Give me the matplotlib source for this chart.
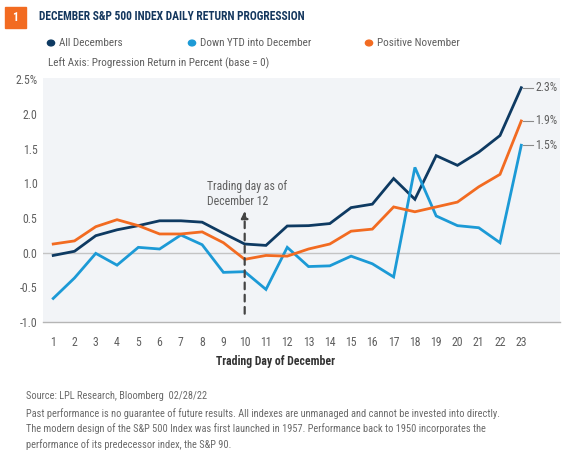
import numpy as np
import matplotlib
matplotlib.use("Agg")
import matplotlib.pyplot as plt
from matplotlib.patches import Rectangle

plt.rcParams['font.family'] = ['Roboto Condensed', 'Roboto', 'DejaVu Sans']

# Données
days = list(range(1, 24))
all_dec = [-0.04, 0.02, 0.245, 0.33, 0.39, 0.46, 0.46, 0.44, 0.28, 0.125, 0.105, 0.385,
           0.39, 0.42, 0.65, 0.70, 1.07, 0.77, 1.40, 1.26, 1.45, 1.69, 2.38]
down_ytd = [-0.66, -0.365, -0.01, -0.18, 0.077, 0.053, 0.255, 0.115, -0.284, -0.274, -0.53, 0.077,
            -0.20, -0.19, -0.05, -0.16, -0.35, 1.23, 0.53, 0.39, 0.36, 0.144, 1.55]
pos_nov = [0.125, 0.17, 0.375, 0.476, 0.39, 0.27, 0.27, 0.30, 0.144, -0.096, -0.04, -0.05,
           0.053, 0.125, 0.31, 0.34, 0.66, 0.59, 0.66, 0.73, 0.95, 1.13, 1.90]
end_labels = ['2.3%', '1.5%', '1.9%']
series_names = ['All Decembers', 'Down YTD into December', 'Positive November']
yticks = [-1.0, -0.5, 0.0, 0.5, 1.0, 1.5, 2.0, 2.5]
ytick_labels = ['-1.0', '-0.5', '0.0', '0.5', '1.0', '1.5', '2.0', '2.5%']

navy = '#0e3a62'
blue = '#1c9ad6'
orange = '#f26b21'
grey = '#5f5f5f'
colors = [navy, blue, orange]

W, H = 574, 459
fig = plt.figure(figsize=(W / 100, H / 100), dpi=100)
fig.patch.set_facecolor('white')

# zone du graphe (pixels)
left, right, top, bottom = 43, 560, 78, 322
ax = fig.add_axes([left / W, 1 - bottom / H, (right - left) / W, (bottom - top) / H])
ax.set_facecolor('#f2f4f7')

for vals, c in zip([all_dec, down_ytd, pos_nov], colors):
    ax.plot(days, vals, color=c, lw=2, solid_joinstyle='miter', zorder=3)

ax.axhline(0, color='#c4c4c4', lw=1, zorder=1)
ax.set_xlim(0.52, 24.82)
ax.set_ylim(-1.0, 2.52)
ax.set_xticks(days)
ax.set_xticklabels([str(d) for d in days], fontsize=8.5, color=grey)
ax.set_yticks(yticks)
ax.set_yticklabels(ytick_labels, fontsize=8.5, color=grey)
ax.tick_params(length=0, pad=10)
ax.tick_params(axis='y', pad=4)
for s in ['top', 'right', 'left']:
    ax.spines[s].set_visible(False)
ax.spines['bottom'].set_color('#b5b5b5')
ax.spines['bottom'].set_linewidth(1)

# étiquettes de fin de série
for vals, lab in zip([all_dec, down_ytd, pos_nov], end_labels):
    ax.plot([23.1, 23.55], [vals[-1], vals[-1]], color='#8a8a8a', lw=0.8)
    ax.text(23.65, vals[-1], lab, fontsize=8.5, color=grey, va='center', ha='left')

# flèche jour 10
ax.annotate('', xy=(10, 0.64), xytext=(10, -0.92),
            arrowprops=dict(arrowstyle='-|>', color='#444444', lw=1.6, ls=(0, (3, 2.5)),
                            mutation_scale=10))
ax.text(8.25, 0.85, 'Trading day as of\nDecember 12', fontsize=8.5, color=grey,
        va='center', ha='left', linespacing=1.15)

fig.text(275 / W, 1 - 361 / H, 'Trading Day of December', fontsize=8.5, fontweight='bold',
         color='#333333', ha='center', va='center')

# en-tête
fig.patches.append(Rectangle((5 / W, 1 - 28 / H), 21 / W, 21 / H, transform=fig.transFigure,
                             color='#f26b21', zorder=0))
fig.text(15.5 / W, 1 - 17.5 / H, '1', fontsize=8.5, fontweight='bold', color='white',
         ha='center', va='center')
fig.text(39 / W, 1 - 16 / H, 'DECEMBER S&P 500 INDEX DAILY RETURN PROGRESSION', fontsize=8.3,
         fontweight='bold', color='#14375e', ha='left', va='center')

# légende
leg_x = [51, 192, 369]
for x, name, c in zip(leg_x, series_names, colors):
    fig.patches.append(plt.Circle((x / W, 1 - 43 / H), 3.6 / W, transform=fig.transFigure,
                                  color=c))
    fig.text((x + 8) / W, 1 - 43 / H, name, fontsize=8, color=grey, ha='left', va='center')

fig.text(48 / W, 1 - 63 / H, 'Left Axis: Progression Return in Percent (base = 0)', fontsize=8,
         color=grey, ha='left', va='center')

# notes
fig.text(26 / W, 1 - 396 / H, 'Source: LPL Research, Bloomberg  02/28/22', fontsize=7.5,
         color='#6a6a6a', ha='left', va='center')
notes = ('Past performance is no guarantee of future results. All indexes are unmanaged and cannot be invested into directly.\n'
         'The modern design of the S&P 500 Index was first launched in 1957. Performance back to 1950 incorporates the\n'
         'performance of its predecessor index, the S&P 90.')
fig.text(26 / W, 1 - 408 / H, notes, fontsize=7.5, color='#6a6a6a', ha='left', va='top',
         linespacing=1.5)

fig.savefig('out.png', dpi=100)
